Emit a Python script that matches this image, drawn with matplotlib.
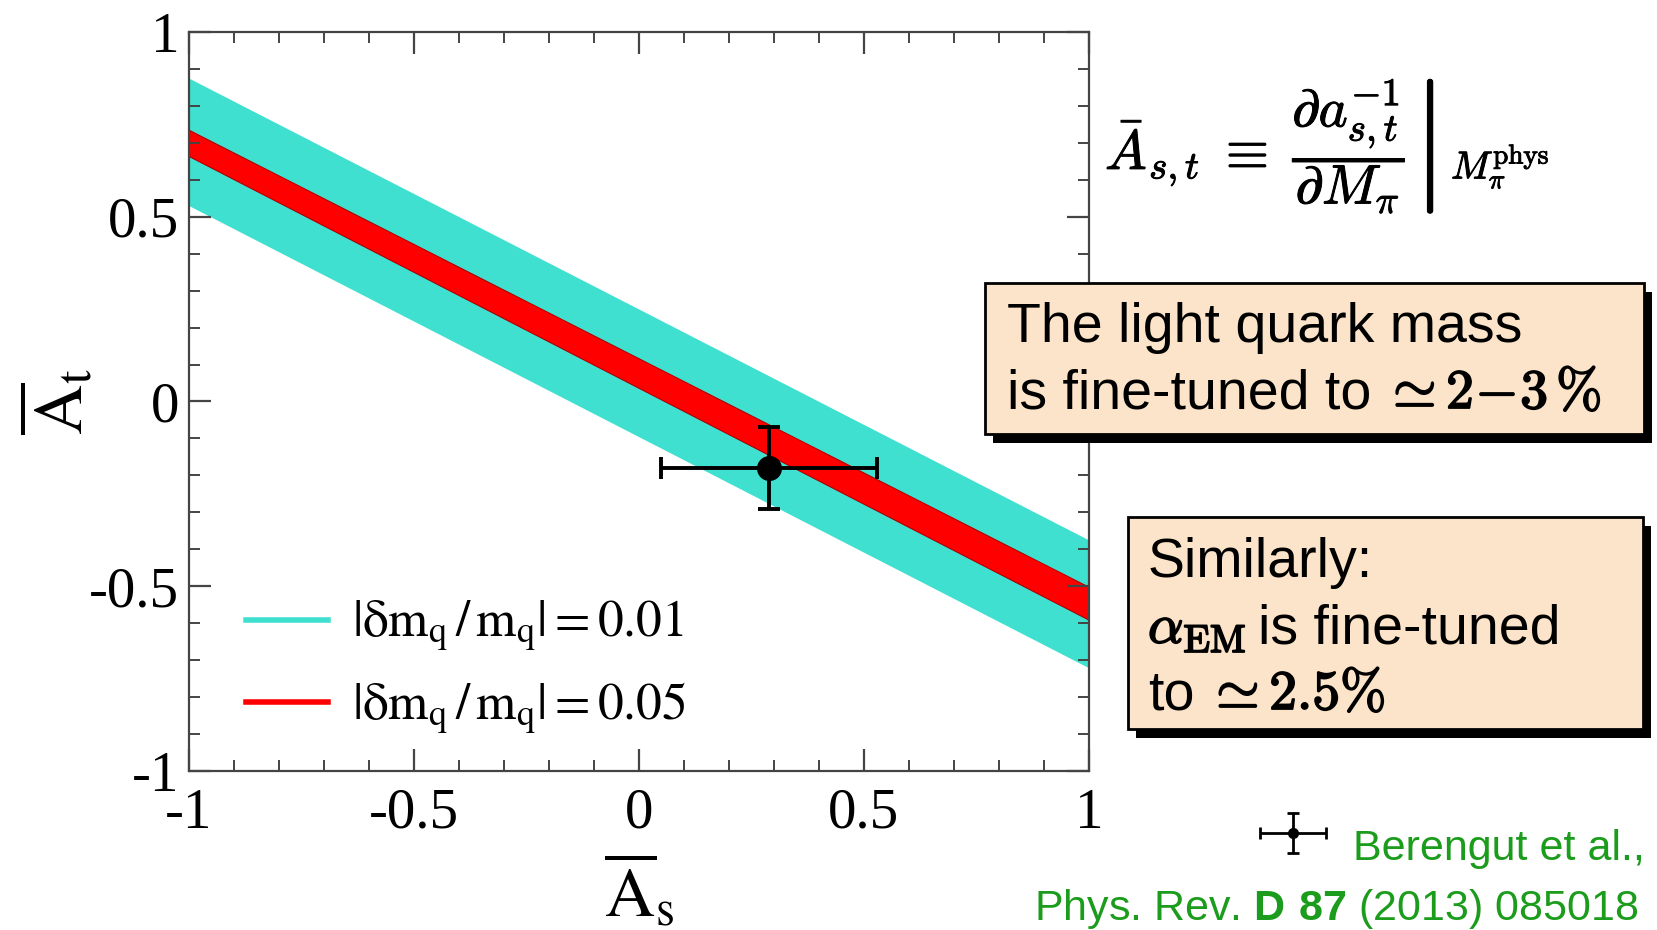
import numpy as np
import matplotlib
matplotlib.use("Agg")
import matplotlib.pyplot as plt
from matplotlib.patches import Rectangle
import matplotlib.patheffects as pe

plt.rcParams['font.family'] = ['Liberation Serif', 'DejaVu Serif']
plt.rcParams['mathtext.fontset'] = 'cm'
plt.rcParams['mathtext.rm'] = 'Liberation Sans'
plt.rcParams['mathtext.bf'] = 'Liberation Sans:bold'

# band edges at As = -1 and As = 1
band_x = [-1.0, 1.0]
cyan_upper = [0.875, -0.375]
cyan_lower = [0.530, -0.721]
red_upper = [0.735, -0.502]
red_lower = [0.664, -0.591]

# Berengut et al. point
pt_x = [0.29]
pt_y = [-0.18]
pt_xerr = [0.24]
pt_yerr = [0.11]

labels = [r'$|\mathrm{\delta m_q\,/\,m_q}| = 0.01$', r'$|\mathrm{\delta m_q\,/\,m_q}| = 0.05$']
tick_vals = [-1, -0.5, 0, 0.5, 1]
tick_text = ['-1', '-0.5', '0', '0.5', '1']

CYAN = '#40e0d0'
RED = '#ff0000'
PEACH = '#fbe4c9'
GREEN = '#1c9c1c'

W, H = 1658, 930
fig = plt.figure(figsize=(W / 100, H / 100), dpi=100)


def fx(px):
    return px / W


def fy(py):
    return 1 - py / H


ax = fig.add_axes([fx(189), fy(771), fx(900), 739 / H])

ax.fill_between(band_x, cyan_lower, cyan_upper, color=CYAN, lw=0)
ax.fill_between(band_x, red_lower, red_upper, facecolor=RED, edgecolor='#b00000', lw=0.8)
ax.errorbar(pt_x, pt_y, xerr=pt_xerr, yerr=pt_yerr, fmt='o', color='black', ms=17,
            elinewidth=2.8, capsize=8, capthick=2.8, zorder=5)

ax.set_xlim(-1, 1)
ax.set_ylim(-1, 1)
ax.set_xticks(tick_vals)
ax.set_xticklabels(tick_text)
ax.set_yticks(tick_vals)
ax.set_yticklabels(tick_text)
ax.set_xticks(np.arange(-1, 1.01, 0.1), minor=True)
ax.set_yticks(np.arange(-1, 1.01, 0.1), minor=True)
ax.tick_params(which='both', direction='in', top=True, right=True, colors='#444444',
               labelcolor='black', labelsize=41)
ax.tick_params(which='major', length=16, width=1.6)
ax.tick_params(which='minor', length=8, width=1.4)
ax.tick_params(axis='x', which='major', pad=12)
ax.tick_params(axis='y', which='major', pad=7)
for s in ax.spines.values():
    s.set_linewidth(1.6)
    s.set_color('#444444')

ax.set_xlabel(r'$\overline{\mathrm{A}}_{\mathrm{s}}$', fontsize=50, math_fontfamily='stix', labelpad=10)
ax.set_ylabel(r'$\overline{\mathrm{A}}_{\mathrm{t}}$', fontsize=50, math_fontfamily='stix', labelpad=-6)

# legend drawn as plain lines
h1, = ax.plot([], [], color=CYAN, lw=4)
h2, = ax.plot([], [], color=RED, lw=4)
leg = ax.legend([h1, h2], labels, loc='upper left', bbox_to_anchor=(fx(200), fy(553)),
                bbox_transform=fig.transFigure, frameon=False, fontsize=37,
                handlelength=1.6, handletextpad=0.45, labelspacing=0.52)
for t in leg.get_texts():
    t.set_math_fontfamily('stix')

bold = [pe.withStroke(linewidth=1.3, foreground='black')]
thin_bold = [pe.withStroke(linewidth=0.7, foreground='black')]

# definition formula
fig.text(fx(1105), fy(148),
         r'$\bar{A}_{s,t}\;\equiv\;\left.\dfrac{\partial a_{s,t}^{-1}}{\partial M_\pi}\right|_{M_\pi^{\mathrm{phys}}}$',
         fontsize=40, va='center', ha='left', math_fontfamily='cm', path_effects=thin_bold)


def box(x0, y0, x1, y1):
    fig.patches.append(Rectangle((fx(x0 + 8), fy(y1 + 9)), fx(x1 - x0), (y1 - y0) / H,
                                 transform=fig.transFigure, facecolor='black', edgecolor='none'))
    fig.patches.append(Rectangle((fx(x0), fy(y1)), fx(x1 - x0), (y1 - y0) / H,
                                 transform=fig.transFigure, facecolor=PEACH, edgecolor='black', lw=2))


sans = ['Liberation Sans', 'DejaVu Sans']
renderer = fig.canvas.get_renderer()


def put(x, y, s, **kw):
    t = fig.text(fx(x), fy(y), s, va='baseline', **kw)
    return t.get_window_extent(renderer).x1


box(985, 283, 1644, 434)
put(1007, 342, 'The light quark mass', family=sans, fontsize=40)
x = put(1007, 408, 'is fine-tuned to', family=sans, fontsize=40)
put(x + 12, 408, r'$\simeq\mathbf{2\!-\!3}\,\%$', fontsize=40, math_fontfamily='cm', path_effects=bold)

box(1128, 517, 1643, 729)
put(1148, 577, 'Similarly:', family=sans, fontsize=40)
x = put(1148, 643, r'$\alpha_{\mathrm{EM}}$', fontsize=40, math_fontfamily='cm', path_effects=bold)
put(x + 12, 643, 'is fine-tuned', family=sans, fontsize=40)
x = put(1148, 709, 'to', family=sans, fontsize=40)
put(x + 12, 709, r'$\simeq\mathbf{2.5\%}$', fontsize=40, math_fontfamily='cm', path_effects=bold)

# reference symbol + citation
sym = fig.add_axes([fx(1258), fy(855), fx(70), 44 / H])
sym.errorbar([0], [0], xerr=[1], yerr=[1], fmt='o', color='black', ms=7,
             elinewidth=2, capsize=4, capthick=2)
sym.set_xlim(-1.06, 1.06)
sym.set_ylim(-1.08, 1.08)
sym.axis('off')

fig.text(fx(1353), fy(860), 'Berengut et al.,', family=sans, fontsize=31, color=GREEN, va='baseline')
fig.text(fx(1639), fy(920), r'Phys. Rev. $\mathbf{D\ 87}$ (2013) 085018', family=sans, fontsize=31,
         color=GREEN, va='baseline', ha='right', math_fontfamily='custom')

fig.savefig('out.png', dpi=100)
